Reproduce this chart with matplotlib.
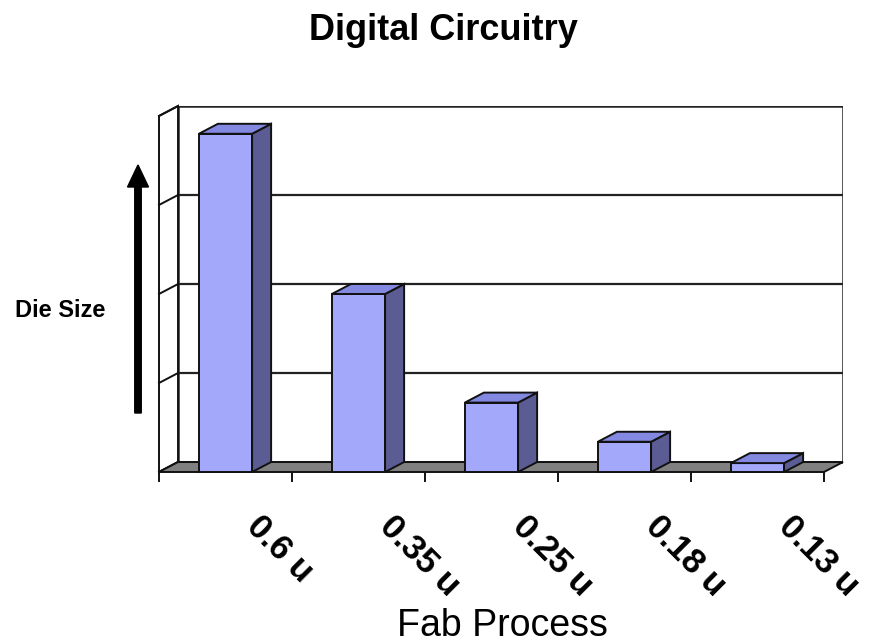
import matplotlib
matplotlib.use("Agg")
import matplotlib.pyplot as plt
from matplotlib.patches import Polygon, FancyArrow
from matplotlib.transforms import IdentityTransform

# Chart data
categories = ["0.6 u", "0.35 u", "0.25 u", "0.18 u", "0.13 u"]
die_size = [3.8, 2.0, 0.78, 0.34, 0.1]
grid_levels = [0, 1, 2, 3, 4]

title = "Digital Circuitry"
x_label = "Fab Process"
y_label = "Die Size"

plt.rcParams["font.family"] = ["Liberation Sans", "DejaVu Sans"]

# Oblique depth offset of the pseudo-3D box (in data units)
DX, DY = 0.143, 0.112
BAR_W = 0.4
ymax = grid_levels[-1]
n = len(categories)

FRONT = "#a3a8fb"
TOP = "#8388e0"
SIDE = "#5c5c94"
FLOOR = "#808080"
EDGE = "#111111"
LW = 1.4

fig = plt.figure(figsize=(8.76, 6.44), dpi=100)
ax = fig.add_axes([159 / 876, (644 - 472) / 644, (843 - 159) / 876, (472 - 106) / 644])
ax.set_xlim(0, n + DX)
ax.set_ylim(0, ymax + DY)
for s in ax.spines.values():
    s.set_visible(False)
ax.set_yticks([])

# Back wall with gridlines
ax.add_patch(Polygon([(DX, DY), (n + DX, DY), (n + DX, ymax + DY), (DX, ymax + DY)],
                     closed=True, facecolor="white", edgecolor="#222222", lw=1.8, zorder=1))
for lv in grid_levels[1:-1]:
    ax.plot([DX, n + DX], [lv + DY, lv + DY], color="#222222", lw=1.6, zorder=1.5)

# Left side wall
ax.add_patch(Polygon([(0, 0), (DX, DY), (DX, ymax + DY), (0, ymax)],
                     closed=True, facecolor="white", edgecolor=EDGE, lw=LW, zorder=2,
                     clip_on=False))
for lv in grid_levels:
    ax.plot([0, DX], [lv, lv + DY], color=EDGE, lw=LW, zorder=2.1, clip_on=False)

# Floor
ax.add_patch(Polygon([(0, 0), (n, 0), (n + DX, DY), (DX, DY)],
                     closed=True, facecolor=FLOOR, edgecolor=EDGE, lw=LW, zorder=2.5,
                     clip_on=False))

# Columns: front face via bar(), side and top faces from the same values
centers = [i + 0.5 for i in range(n)]
ax.bar(centers, die_size, width=BAR_W, color=FRONT, edgecolor=EDGE, lw=LW, zorder=3,
       clip_on=False)
for c, v in zip(centers, die_size):
    l, r = c - BAR_W / 2, c + BAR_W / 2
    ax.add_patch(Polygon([(r, 0), (r + DX, DY), (r + DX, v + DY), (r, v)], closed=True,
                         facecolor=SIDE, edgecolor=EDGE, lw=LW, zorder=3))
    ax.add_patch(Polygon([(l, v), (r, v), (r + DX, v + DY), (l + DX, v + DY)], closed=True,
                         facecolor=TOP, edgecolor=EDGE, lw=LW, zorder=3))

# Category axis: boundary ticks, rotated labels
ax.set_xticks(range(n + 1))
ax.set_xticklabels([])
ax.tick_params(axis="x", direction="out", length=7, width=1.4, color=EDGE)
for c, lab in zip(centers, categories):
    ax.annotate(lab, xy=(c, 0), xycoords="data", xytext=(14, -40), textcoords="offset points",
                rotation=-45, rotation_mode="anchor", ha="left", va="baseline",
                fontsize=25, fontweight="bold", annotation_clip=False)

# Titles
fig.text(443 / 876, 1 - 40 / 644, title, ha="center", va="baseline",
         fontsize=26, fontweight="bold")
fig.text(502 / 876, 1 - 636 / 644, x_label, ha="center", va="baseline", fontsize=27)
fig.text(15 / 876, 1 - 317 / 644, y_label, ha="left", va="baseline",
         fontsize=17, fontweight="bold")

# Upward arrow beside the value axis
fig.add_artist(FancyArrow(138, 644 - 413, 0, 413 - 165, width=6.5, head_width=21,
                          head_length=22, length_includes_head=True, color="black",
                          transform=IdentityTransform()))

fig.savefig("out.png", dpi=100)
